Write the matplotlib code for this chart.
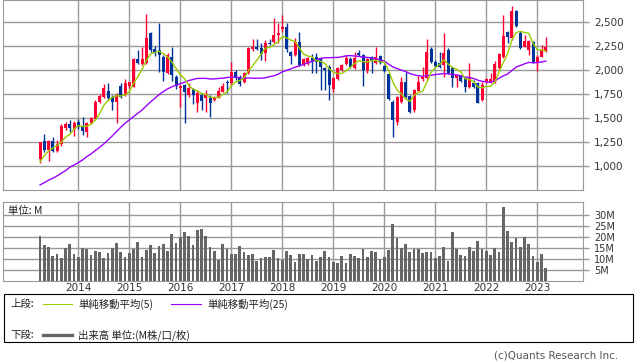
import matplotlib
matplotlib.use("Agg")
import matplotlib.pyplot as plt
from matplotlib.patches import Rectangle
from matplotlib.lines import Line2D
import numpy as np

# ── Data (monthly, Apr 2013 – Mar 2023) ───────────────────────
opens = [
    1077, 1264, 1171, 1264, 1164, 1233, 1400, 1441, 1386, 1462,
    1421, 1362, 1455, 1490, 1674, 1719, 1789, 1726, 1674, 1837,
    1743, 1837, 1830, 2115, 2066, 2073, 2386, 2219, 2212, 2143,
    1969, 2136, 1934, 1813, 1848, 1743, 1803, 1664, 1743, 1709,
    1726, 1691, 1726, 1778, 1882, 1865, 1987, 1927, 1882, 1976,
    2219, 2247, 2230, 2177, 2289, 2299, 2368, 2427, 2448, 2195,
    2160, 2299, 2056, 2066, 2125, 2140, 2125, 2021, 2038, 1803,
    1907, 2004, 2066, 2115, 2028, 2184, 2160, 2004, 2136, 2080,
    2150, 2046, 1962, 1674, 1466, 1674, 1882, 1733, 1587, 1789,
    1907, 1917, 2219, 2091, 2080, 2056, 2212, 2021, 1917, 1941,
    1917, 1830, 1872, 1865, 1691, 1882, 1882, 1882, 2021, 2143,
    2396, 2334, 2622, 2393, 2247, 2212, 2299, 2091, 2143, 2205,
]
highs = [
    1255, 1337, 1275, 1303, 1275, 1441, 1466, 1483, 1476, 1490,
    1518, 1466, 1518, 1691, 1754, 1855, 1868, 1743, 1761, 1865,
    1907, 1882, 2125, 2212, 2247, 2587, 2400, 2250, 2497, 2160,
    2177, 2247, 1950, 1850, 1860, 1865, 1820, 1789, 1760, 1796,
    1740, 1730, 1823, 1865, 1900, 2091, 2000, 1952, 1987, 2240,
    2323, 2327, 2282, 2316, 2323, 2542, 2490, 2577, 2497, 2200,
    2334, 2403, 2125, 2135, 2167, 2180, 2143, 2038, 2050, 1930,
    2030, 2065, 2160, 2143, 2195, 2212, 2170, 2125, 2145, 2247,
    2160, 2060, 1975, 1690, 1730, 1934, 1987, 1745, 1805, 1941,
    2038, 2327, 2240, 2110, 2195, 2386, 2230, 2030, 1960, 1955,
    1930, 2073, 1900, 1875, 1882, 1915, 1976, 2098, 2180, 2577,
    2410, 2670, 2629, 2410, 2368, 2315, 2310, 2155, 2264, 2351,
]
lows = [
    1032, 1153, 1056, 1146, 1153, 1216, 1379, 1355, 1316, 1393,
    1327, 1309, 1441, 1483, 1657, 1709, 1691, 1587, 1448, 1709,
    1733, 1813, 1823, 2066, 2056, 2066, 2195, 2150, 1987, 1893,
    1960, 1893, 1803, 1615, 1455, 1726, 1650, 1570, 1587, 1570,
    1511, 1680, 1715, 1770, 1761, 1850, 1900, 1840, 1870, 1965,
    2200, 2212, 2108, 2101, 2260, 2282, 2282, 2400, 2195, 2063,
    2150, 2040, 2040, 2050, 1969, 1976, 1796, 1796, 1691, 1778,
    1900, 1995, 2055, 2020, 2015, 2150, 1837, 1969, 1976, 2070,
    2070, 1985, 1690, 1303, 1431, 1660, 1710, 1560, 1570, 1780,
    1890, 1910, 2080, 2030, 2020, 1927, 1965, 1823, 1823, 1880,
    1778, 1820, 1820, 1660, 1680, 1865, 1870, 1870, 2010, 2130,
    2282, 2320, 2450, 2220, 2240, 2160, 2080, 1997, 2135, 2195,
]
closes = [
    1251, 1171, 1264, 1164, 1233, 1421, 1441, 1396, 1455, 1407,
    1372, 1455, 1500, 1674, 1733, 1813, 1709, 1674, 1743, 1726,
    1865, 1875, 2115, 2080, 2115, 2334, 2212, 2177, 2160, 1987,
    2160, 1952, 1837, 1837, 1778, 1813, 1743, 1768, 1684, 1743,
    1657, 1719, 1789, 1837, 1865, 1987, 1917, 1858, 1976, 2230,
    2247, 2219, 2171, 2282, 2275, 2368, 2386, 2448, 2219, 2150,
    2299, 2056, 2115, 2125, 2101, 2090, 2038, 2004, 1848, 1917,
    2021, 2056, 2125, 2032, 2125, 2160, 2004, 2115, 2101, 2136,
    2080, 1997, 1698, 1483, 1719, 1882, 1726, 1570, 1796, 1882,
    1927, 2195, 2091, 2046, 2038, 2177, 1976, 1917, 1952, 1893,
    1830, 1917, 1830, 1664, 1848, 1907, 1907, 2066, 2171, 2358,
    2351, 2622, 2462, 2230, 2306, 2306, 2091, 2143, 2212, 2247,
]
volumes = [  # millions
    20.3, 16.2, 15.2, 11.2, 12.1, 10.2, 14.9, 16.7, 12.1, 10.6,
    14.9, 14.4, 11.7, 13.3, 13.0, 10.3, 12.7, 14.9, 17.0, 13.0,
    10.6, 12.7, 14.2, 17.6, 10.6, 14.0, 16.2, 12.7, 15.8, 16.7,
    13.6, 21.2, 17.3, 20.0, 22.1, 20.3, 16.2, 23.0, 23.3, 20.3,
    15.2, 13.3, 9.4, 16.7, 14.2, 12.1, 12.1, 15.8, 12.9, 11.5,
    12.1, 8.9, 10.3, 10.6, 10.6, 14.0, 10.3, 9.4, 13.5, 11.7,
    8.5, 12.1, 12.1, 9.8, 11.7, 8.9, 10.8, 13.5, 10.8, 8.5,
    8.0, 11.2, 8.0, 12.1, 11.2, 10.3, 14.4, 10.8, 13.5, 13.0,
    9.8, 10.8, 14.0, 25.8, 19.4, 14.9, 16.7, 13.0, 14.4, 14.4,
    12.6, 13.0, 13.0, 10.3, 11.2, 15.2, 9.1, 22.1, 14.4, 11.7,
    11.2, 15.2, 13.5, 18.0, 14.4, 13.5, 11.7, 14.9, 13.0, 33.5,
    22.6, 17.6, 19.4, 15.2, 19.8, 16.7, 11.2, 8.5, 12.1, 5.8,
]
# moving-average values before enough closes are in view
ma5_head = [1049, 1110, 1160, 1190]
ma25_head = [806, 830, 855, 876, 900, 928, 955, 990, 1014, 1039,
             1066, 1101, 1129, 1164, 1198, 1233, 1275, 1317, 1362, 1407,
             1448, 1483, 1518, 1552]
years = ["2014", "2015", "2016", "2017", "2018", "2019", "2020", "2021", "2022", "2023"]
year_idx = [9, 21, 33, 45, 57, 69, 81, 93, 105, 117]   # January of each year
price_ticks = [1000, 1250, 1500, 1750, 2000, 2250, 2500]
vol_ticks = [5, 10, 15, 20, 25, 30]

# ── Derived ────────────────────────────────────────────────────
o = np.array(opens, float)
h = np.array(highs, float)
l = np.array(lows, float)
c = np.array(closes, float)
x = np.arange(len(c))

def sma(vals, n, head):
    out = np.convolve(vals, np.ones(n) / n, mode="valid")
    return np.concatenate([head, out])

ma5 = sma(c, 5, ma5_head)
ma25 = sma(c, 25, ma25_head)

RED, BLUE = "#ff0033", "#003399"
GREEN, PURPLE = "#99cc00", "#9900ff"
GRID = "#999999"
TXT = "#333333"
JP = ["Noto Sans CJK JP", "DejaVu Sans"]

W, H = 638, 362
fx = lambda px: px / W
fy = lambda py: 1 - py / H

fig = plt.figure(figsize=(W / 100, H / 100), dpi=100)
fig.patch.set_facecolor("white")

XL = (-8.72, 127.75)

# ── Price panel ────────────────────────────────────────────────
ax = fig.add_axes([fx(3), fy(190.3), fx(583) - fx(3), fy(0.3) - fy(190.3)])
ax.set_xlim(*XL)
ax.set_ylim(750, 2729)

up = c >= o
cols = np.where(up, RED, BLUE)
ax.vlines(x, l, h, colors=cols, linewidth=1.0, zorder=3)
body = np.maximum(np.abs(c - o), 6)
ax.bar(x, body, bottom=np.minimum(o, c), width=0.72, color=cols, linewidth=0, zorder=3)
ax.plot(x, ma25, color=PURPLE, linewidth=1.0, zorder=4)
ax.plot(x, ma5, color=GREEN, linewidth=1.0, zorder=5)

ax.set_xticks(year_idx)
ax.set_yticks(price_ticks)
ax.set_yticklabels([f"{v:,}" for v in price_ticks])
ax.yaxis.tick_right()
ax.grid(True, color=GRID, linewidth=1.0, zorder=0)
ax.tick_params(axis="x", length=0, labelbottom=False)
ax.tick_params(axis="y", length=4, width=1, color=GRID, pad=4, labelsize=7.5, labelcolor=TXT)
for sp in ax.spines.values():
    sp.set_color(GRID)

# ── Volume panel ───────────────────────────────────────────────
av = fig.add_axes([fx(3), fy(280.7), fx(583) - fx(3), fy(201.7) - fy(280.7)])
av.set_xlim(*XL)
av.set_ylim(0, 35.9)
av.bar(x, volumes, width=0.62, color="#666666", linewidth=0, zorder=3)
av.set_xticks(year_idx)
av.set_xticklabels(years)
av.set_yticks(vol_ticks)
av.set_yticklabels([f"{v}M" for v in vol_ticks])
av.yaxis.tick_right()
av.grid(True, color=GRID, linewidth=1.0, zorder=0)
av.tick_params(axis="x", length=0, pad=2, labelsize=7.5, labelcolor=TXT)
av.tick_params(axis="y", length=4, width=1, color=GRID, pad=4, labelsize=7, labelcolor=TXT)
for sp in av.spines.values():
    sp.set_color(GRID)
av.text(5 / 580, 0.88, "単位: M", transform=av.transAxes, fontsize=7.5,
        family=JP, color="#222222", va="center", ha="left", zorder=6)

# ── Legend box ─────────────────────────────────────────────────
fig.patches.append(Rectangle((fx(3.5), fy(341.5)), fx(633) - fx(3.5), fy(293.5) - fy(341.5),
                             transform=fig.transFigure, fill=False,
                             edgecolor="black", linewidth=0.8))
r1, r2 = 304, 335
fig.text(fx(10), fy(r1), "上段:", family=JP, fontsize=7.5, va="center", color="#222222")
fig.lines.append(Line2D([fx(43), fx(72)], [fy(r1)] * 2, color=GREEN, linewidth=0.8,
                        transform=fig.transFigure))
fig.text(fx(78), fy(r1), "単純移動平均(5)", family=JP, fontsize=7.5, va="center", color="#222222")
fig.lines.append(Line2D([fx(171), fx(201)], [fy(r1)] * 2, color=PURPLE, linewidth=0.8,
                        transform=fig.transFigure))
fig.text(fx(207), fy(r1), "単純移動平均(25)", family=JP, fontsize=7.5, va="center", color="#222222")
fig.text(fx(10), fy(r2), "下段:", family=JP, fontsize=7.5, va="center", color="#222222")
fig.lines.append(Line2D([fx(43), fx(72)], [fy(r2)] * 2, color="#666666", linewidth=2.4,
                        transform=fig.transFigure))
fig.text(fx(78), fy(r2), "出来高 単位:(M株/口/枚)", family=JP, fontsize=7.5, va="center", color="#222222")

fig.text(fx(618), fy(355), "(c)Quants Research Inc.", fontsize=7.5, ha="right", va="center",
         color="#555555")

fig.savefig("out.png", dpi=100, facecolor="white")
